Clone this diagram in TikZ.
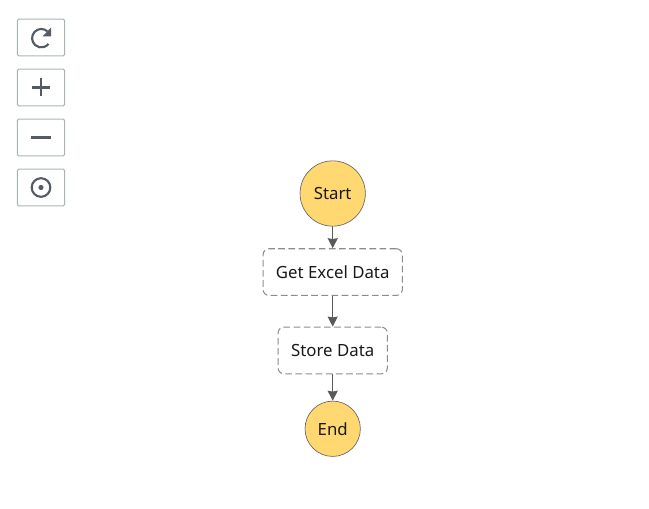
\documentclass[tikz,border=0pt]{standalone}
\usepackage{fontspec}
\setmainfont{Noto Sans}
\usetikzlibrary{arrows.meta,positioning}
\definecolor{startfill}{HTML}{FFD872}
\definecolor{edgegray}{HTML}{5A5A5A}
\definecolor{boxgray}{HTML}{8C8C8C}
\definecolor{btnline}{HTML}{A9B4B6}
\definecolor{icongray}{HTML}{545B64}

\begin{document}
\begin{tikzpicture}[x=0.75pt,y=-0.75pt,>={Stealth[length=7.5pt,width=7.5pt,inset=0.6pt]},
    font=\fontsize{12.6}{15}\selectfont,text=black!90,
    terminal/.style={circle,draw=black!60,line width=0.5pt,fill=startfill,inner sep=0pt},
    task/.style={draw=boxgray,rounded corners=4.5pt,dashed,dash pattern=on 5pt off 2.6pt,line width=0.8pt,minimum height=35pt},
    flow/.style={->,draw=edgegray,line width=1.1pt},
    button/.style={draw=btnline,line width=0.75pt,rounded corners=1pt,minimum width=35.5pt,minimum height=27.5pt,inner sep=0pt,outer sep=0pt},
    icon/.style={draw=icongray,line width=1.6pt}]
  \useasboundingbox (0,0) rectangle (649,509);
  % State machine
  \node[terminal,minimum size=49pt] (start) at (332.7,193.5) {Start};
  \node[task,minimum width=104.5pt]  (get excel)  [below=16.3pt of start]     {Get Excel Data};
  \node[task,minimum width=82pt]     (store data) [below=23pt of get excel]   {Store Data};
  \node[terminal,minimum size=41.5pt] (end)       [below=19.8pt of store data] {End};
  \path
  (start) edge[flow] (get excel)
  (get excel) edge[flow] (store data)
  (store data) edge[flow] (end);
  % Toolbar
  \node[button] (refresh) at (41,37.5)  {};
  \node[button] (zoom in)  [below=10pt of refresh] {};
  \node[button] (zoom out) [below=10pt of zoom in] {};
  \node[button] (center)   [below=10pt of zoom out] {};
  \draw[icon] (refresh.center) ++(0.3,0.7) ++(-48:9.2) arc[start angle=-48,end angle=-322,radius=9.2];
  \fill[icongray] (51,27.6) -- (51,36.4) -- (42.6,36.4) -- cycle;
  \draw[icon] (zoom in.center) ++(-9,0) -- ++(18,0) (zoom in.center) ++(0,-9) -- ++(0,18);
  \draw[icon] (zoom out.center) ++(-10,0) -- ++(20,0);
  \draw[icon] (center.center) circle[radius=9.3];
  \fill[icongray] (center.center) circle[radius=2.6];
\end{tikzpicture}
\end{document}
